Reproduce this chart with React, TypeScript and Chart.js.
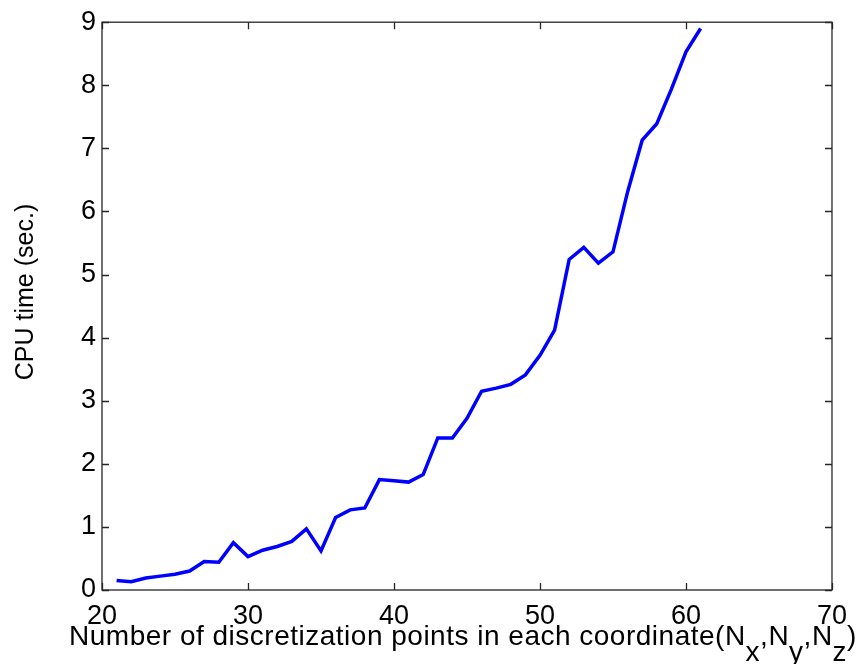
import React, { useEffect, useRef } from "react";
import { Chart, registerables } from "chart.js";

Chart.register(...registerables);

// Grid sizes N (points per coordinate) and measured CPU time in seconds
const gridSizes = [
  21, 22, 23, 24, 25, 26, 27, 28, 29, 30, 31, 32, 33, 34, 35, 36, 37, 38, 39, 40, 41,
  42, 43, 44, 45, 46, 47, 48, 49, 50, 51, 52, 53, 54, 55, 56, 57, 58, 59, 60, 61,
];
const cpuTimes = [
  0.15, 0.13, 0.19, 0.22, 0.25, 0.3, 0.45, 0.44, 0.75, 0.53, 0.63, 0.69, 0.77, 0.97, 0.62,
  1.15, 1.27, 1.3, 1.75, 1.73, 1.71, 1.83, 2.41, 2.41, 2.72, 3.15, 3.2, 3.26, 3.41, 3.72,
  4.12, 5.24, 5.43, 5.18, 5.36, 6.31, 7.13, 7.39, 7.94, 8.53, 8.9,
];
const xTicks = [20, 30, 40, 50, 60, 70];
const yTicks = [0, 1, 2, 3, 4, 5, 6, 7, 8, 9];

const yTitle = "CPU time (sec.)";
const xTitleMain = "Number of discretization points in each coordinate(";
const xTitleSubs = ["x", "y", "z"];

const FONT = "'Liberation Sans', Arial, Helvetica, sans-serif";
const W = 857;
const H = 664;

// Box around the plot area with inward tick marks on all four sides
const boxPlugin = {
  id: "matlabBox",
  afterDatasetsDraw(chart: any) {
    const { ctx, chartArea: a, scales } = chart;
    const tl = 7;
    ctx.save();
    ctx.strokeStyle = "#262626";
    ctx.lineWidth = 1.3;
    ctx.strokeRect(a.left, a.top, a.right - a.left, a.bottom - a.top);
    ctx.beginPath();
    for (const v of xTicks) {
      const px = Math.round(scales.x.getPixelForValue(v)) + 0.5;
      ctx.moveTo(px, a.bottom);
      ctx.lineTo(px, a.bottom - tl);
      ctx.moveTo(px, a.top);
      ctx.lineTo(px, a.top + tl);
    }
    for (const v of yTicks) {
      const py = Math.round(scales.y.getPixelForValue(v)) + 0.5;
      ctx.moveTo(a.left, py);
      ctx.lineTo(a.left + tl, py);
      ctx.moveTo(a.right, py);
      ctx.lineTo(a.right - tl, py);
    }
    ctx.stroke();
    ctx.restore();
  },
  afterDraw(chart: any) {
    const { ctx, chartArea: a } = chart;
    ctx.save();
    ctx.fillStyle = "#000";

    // y-axis title
    ctx.font = `25px ${FONT}`;
    ctx.translate(33, 292);
    ctx.rotate(-Math.PI / 2);
    ctx.textAlign = "center";
    ctx.textBaseline = "alphabetic";
    ctx.fillText(yTitle, 0, 0);
    ctx.setTransform(1, 0, 0, 1, 0, 0);

    // x-axis title with subscripts
    ctx.font = `28px ${FONT}`;
    (ctx as any).letterSpacing = "0.5px";
    ctx.textAlign = "left";
    const subShift = 16;
    const parts: { t: string; sub: boolean }[] = [{ t: xTitleMain, sub: false }];
    xTitleSubs.forEach((s, i) => {
      parts.push({ t: "N", sub: false });
      parts.push({ t: s, sub: true });
      parts.push({ t: i < xTitleSubs.length - 1 ? "," : ")", sub: false });
    });
    const total = parts.reduce((w, p) => w + ctx.measureText(p.t).width, 0);
    let x = (a.left + a.right) / 2 - 4 - total / 2;
    const base = 645;
    for (const p of parts) {
      ctx.fillText(p.t, x, p.sub ? base + subShift : base);
      x += ctx.measureText(p.t).width;
    }
    ctx.restore();
  },
};

export default function App() {
  const ref = useRef<HTMLCanvasElement>(null);

  useEffect(() => {
    if (!ref.current) return;
    const chart = new Chart(ref.current, {
      type: "line",
      data: {
        datasets: [
          {
            data: gridSizes.map((n, i) => ({ x: n, y: cpuTimes[i] })),
            borderColor: "#0000ff",
            borderWidth: 3.5,
            pointRadius: 0,
            tension: 0,
            fill: false,
          },
        ],
      },
      options: {
        responsive: false,
        animation: false,
        events: [],
        layout: { padding: { left: 0, top: 16, right: 25, bottom: 0 } },
        plugins: { legend: { display: false }, tooltip: { enabled: false } },
        scales: {
          x: {
            type: "linear",
            min: 20,
            max: 70,
            afterFit: (s: any) => {
              s.height = 74;
            },
            afterBuildTicks: (s: any) => {
              s.ticks = xTicks.map((v) => ({ value: v }));
            },
            grid: { display: false, drawTicks: false },
            border: { display: false },
            ticks: {
              color: "#000",
              padding: 10,
              maxRotation: 0,
              font: { family: FONT, size: 27 },
            },
          },
          y: {
            type: "linear",
            min: 0,
            max: 9,
            afterFit: (s: any) => {
              s.width = 102;
            },
            afterBuildTicks: (s: any) => {
              s.ticks = yTicks.map((v) => ({ value: v }));
            },
            grid: { display: false, drawTicks: false },
            border: { display: false },
            ticks: {
              color: "#000",
              padding: 6,
              font: { family: FONT, size: 27 },
            },
          },
        },
      },
      plugins: [boxPlugin],
    });
    return () => chart.destroy();
  }, []);

  return (
    <div style={{ position: "fixed", left: 0, top: 0, width: W, height: H, background: "#fff" }}>
      <canvas ref={ref} width={W} height={H} style={{ display: "block", width: W, height: H }} />
    </div>
  );
}
